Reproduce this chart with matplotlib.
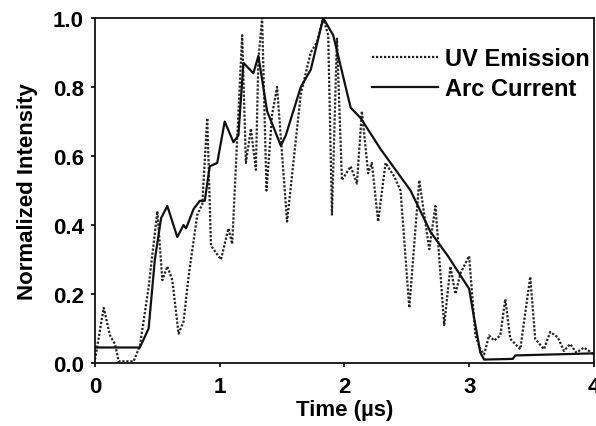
# Pulso de arco: emissão UV normalizada e corrente do arco
import matplotlib
matplotlib.use("Agg")
import matplotlib.pyplot as plt

# tempo (µs) e intensidade normalizada
uv_t = [0.00, 0.07, 0.12, 0.16, 0.19, 0.31, 0.36, 0.43, 0.50, 0.54, 0.58, 0.62,
        0.67, 0.71, 0.75, 0.82, 0.86, 0.90, 0.93, 1.01, 1.07, 1.10, 1.14, 1.18,
        1.21, 1.25, 1.29, 1.31, 1.34, 1.375, 1.42, 1.46, 1.54, 1.65, 1.73, 1.78,
        1.83, 1.87, 1.90, 1.94, 1.98, 2.05, 2.10, 2.14, 2.19, 2.22, 2.27, 2.33,
        2.40, 2.45, 2.52, 2.60, 2.68, 2.73, 2.80, 2.85, 2.89, 2.93, 3.00, 3.05,
        3.09, 3.12, 3.16, 3.20, 3.25, 3.29, 3.33, 3.41, 3.49, 3.53, 3.60, 3.65,
        3.71, 3.76, 3.81, 3.86, 3.92, 4.00]
uv_y = [0.01, 0.16, 0.08, 0.055, 0.005, 0.005, 0.05, 0.22, 0.44, 0.24, 0.28, 0.24,
        0.085, 0.12, 0.25, 0.43, 0.46, 0.71, 0.34, 0.30, 0.39, 0.345, 0.65, 0.95,
        0.58, 0.68, 0.56, 0.88, 1.00, 0.50, 0.72, 0.80, 0.41, 0.78, 0.90, 0.93,
        1.00, 0.95, 0.43, 0.94, 0.53, 0.57, 0.52, 0.73, 0.55, 0.58, 0.41, 0.58,
        0.54, 0.50, 0.16, 0.53, 0.33, 0.455, 0.11, 0.28, 0.20, 0.26, 0.31, 0.08,
        0.04, 0.025, 0.08, 0.065, 0.08, 0.185, 0.07, 0.04, 0.25, 0.07, 0.04, 0.09,
        0.075, 0.035, 0.055, 0.03, 0.045, 0.025]

arc_t = [0.00, 0.36, 0.43, 0.48, 0.53, 0.58, 0.66, 0.71, 0.73, 0.79, 0.84, 0.88,
         0.92, 0.98, 1.04, 1.11, 1.15, 1.19, 1.27, 1.31, 1.38, 1.49, 1.53, 1.65,
         1.73, 1.83, 1.91, 1.99, 2.05, 2.13, 2.29, 2.45, 2.53, 2.69, 2.83, 3.00,
         3.04, 3.09, 3.12, 3.35, 3.37, 4.00]
arc_y = [0.045, 0.045, 0.10, 0.30, 0.42, 0.455, 0.365, 0.40, 0.39, 0.446, 0.47, 0.47,
         0.57, 0.58, 0.70, 0.64, 0.66, 0.87, 0.84, 0.89, 0.73, 0.63, 0.66, 0.80,
         0.85, 1.00, 0.95, 0.83, 0.74, 0.71, 0.62, 0.54, 0.50, 0.38, 0.31, 0.215,
         0.13, 0.03, 0.01, 0.012, 0.022, 0.028]

x_ticks = [0, 1, 2, 3, 4]
y_ticks = [0.0, 0.2, 0.4, 0.6, 0.8, 1.0]

plt.rcParams["font.family"] = ["Liberation Sans", "DejaVu Sans"]
plt.rcParams["font.weight"] = "bold"

fig = plt.figure(figsize=(5.96, 4.27), dpi=100)
ax = fig.add_axes([0.1594, 0.1475, 0.837, 0.808])

ax.plot(uv_t, uv_y, color="#222222", lw=1.6, linestyle=(0, (1, 0.8)),
        label="UV Emission")
ax.plot(arc_t, arc_y, color="#111111", lw=1.6, label="Arc Current")

ax.set_xlim(0, 4)
ax.set_ylim(0, 1.0)
ax.set_xticks(x_ticks)
ax.set_yticks(y_ticks)
ax.set_xticklabels([str(v) for v in x_ticks], fontsize=16, fontweight="bold")
ax.set_yticklabels([f"{v:.1f}" for v in y_ticks], fontsize=16, fontweight="bold")
ax.tick_params(axis="x", direction="out", length=3, width=1.2, pad=6)
ax.tick_params(axis="y", direction="out", length=3, width=1.2, pad=5)
for sp in ax.spines.values():
    sp.set_linewidth(1.3)
    sp.set_color("#111111")

ax.set_xlabel("Time (µs)", fontsize=16, fontweight="bold", labelpad=2)
ax.set_ylabel("Normalized Intensity", fontsize=16, fontweight="bold", labelpad=11)

ax.legend(loc="upper left", bbox_to_anchor=(0.555, 0.915), frameon=False,
          fontsize=17, handlelength=2.8, handletextpad=0.3, labelspacing=0.3,
          borderpad=0, borderaxespad=0)

fig.savefig("out.png", dpi=100)
